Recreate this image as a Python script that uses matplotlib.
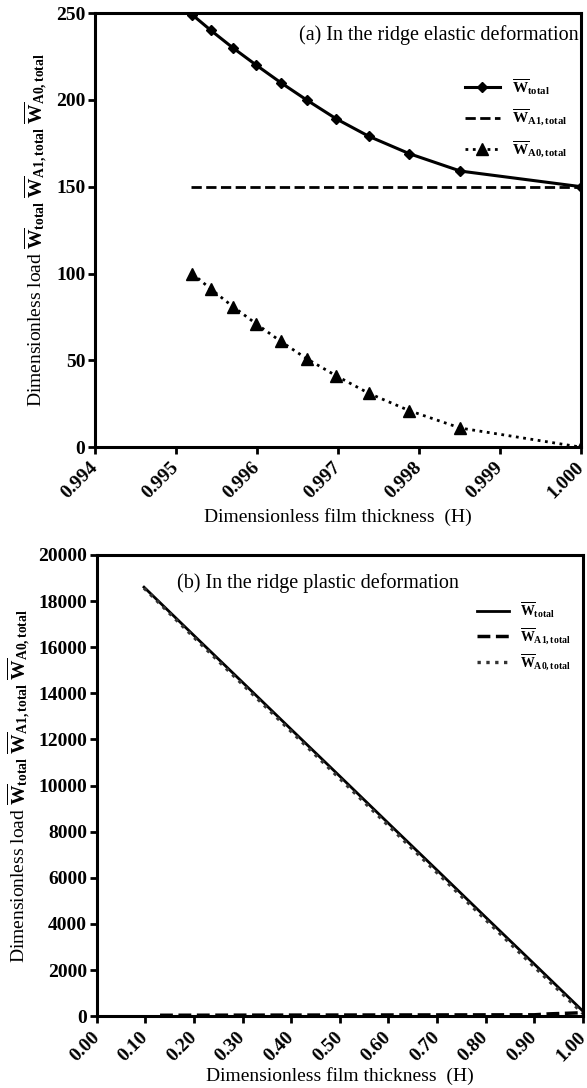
import matplotlib
matplotlib.use('Agg')
import matplotlib.pyplot as plt

plt.rcParams['font.family'] = ['Liberation Serif', 'DejaVu Serif']
plt.rcParams['mathtext.fontset'] = 'custom'
plt.rcParams['mathtext.rm'] = 'Liberation Serif:bold'
plt.rcParams['mathtext.it'] = 'Liberation Serif:bold'
plt.rcParams['mathtext.bf'] = 'Liberation Serif:bold'

# (a) elastic deformation
H_a = [0.99520, 0.99543, 0.99570, 0.99599, 0.99629, 0.99661, 0.99698, 0.99738, 0.99788, 0.99851, 1.00000]
Wtot_a = [249, 240, 230, 220, 210, 200, 189, 179, 169, 159, 150]
WA0_a = [100, 91, 81, 71, 61, 51, 41, 31, 21, 11, 0]
H_a1 = [0.99518, 1.00000]
WA1_a = [150, 150]

# (b) plastic deformation
H_b = [0.097, 0.2, 0.3, 0.4, 0.5, 0.6, 0.7, 0.8, 0.9, 1.0]
Wtot_b = [18600, 16500, 14470, 12430, 10400, 8360, 6330, 4290, 2260, 220]
WA0_b = [18560, 16420, 14380, 12340, 10300, 8260, 6220, 4180, 2140, 120]
H_b1 = [0.13, 0.5, 0.9, 0.93, 1.0]
WA1_b = [40, 50, 60, 100, 150]

lab_tot = r'$\overline{\mathrm{W}}_{\mathrm{total}}$'
lab_a1 = r'$\overline{\mathrm{W}}_{\mathrm{A1,total}}$'
lab_a0 = r'$\overline{\mathrm{W}}_{\mathrm{A0,total}}$'
ylab = 'Dimensionless load ' + lab_tot + ' ' + lab_a1 + ' ' + lab_a0

fig = plt.figure(figsize=(5.87, 10.88), dpi=100)


def style(ax, xpad):
    for s in ax.spines.values():
        s.set_linewidth(2.2)
    ax.tick_params(axis='both', which='both', direction='out', width=2, length=5,
                   labelsize=14, top=False, right=False, pad=2)
    ax.tick_params(axis='x', pad=8)
    for lbl in ax.get_xticklabels():
        lbl.set_rotation(45)
        lbl.set_ha('right')
        lbl.set_va('center')
        lbl.set_rotation_mode('anchor')
        lbl.set_fontweight('bold')
    for lbl in ax.get_yticklabels():
        lbl.set_fontweight('bold')
    ax.set_xlabel('Dimensionless film thickness  (H)', fontsize=14, labelpad=xpad)
    ax.set_ylabel(ylab, fontsize=14, labelpad=4)


ax1 = fig.add_axes([0.162, 0.589, 0.828, 0.399])
ax1.plot(H_a, Wtot_a, '-', color='black', lw=2.2, marker='D', ms=5.5, label=lab_tot)
ax1.plot(H_a1, WA1_a, '--', color='black', lw=2.0, label=lab_a1)
ax1.plot(H_a, WA0_a, ':', color='black', lw=2.0, marker='^', ms=8, label=lab_a0)
ax1.set_xlim(0.994, 1.000)
ax1.set_ylim(0, 250)
ax1.set_xticks([0.994, 0.995, 0.996, 0.997, 0.998, 0.999, 1.000])
ax1.set_xticklabels(['0.994', '0.995', '0.996', '0.997', '0.998', '0.999', '1.000'])
ax1.set_yticks([0, 50, 100, 150, 200, 250])
style(ax1, 4)
ax1.text(0.995, 0.95, '(a) In the ridge elastic deformation', transform=ax1.transAxes,
         ha='right', va='center', fontsize=14.5)
ax1.legend(loc='upper right', bbox_to_anchor=(1.0, 0.885), frameon=False, fontsize=11,
           handlelength=2.3, labelspacing=0.75)

ax2 = fig.add_axes([0.165, 0.066, 0.828, 0.424])
ax2.plot(H_b, Wtot_b, '-', color='black', lw=2.0, label=lab_tot)
ax2.plot(H_b1, WA1_b, '--', color='black', lw=2.5, label=lab_a1)
ax2.plot(H_b, WA0_b, ':', color='#333333', lw=2.4, label=lab_a0)
ax2.set_xlim(0, 1.0)
ax2.set_ylim(0, 20000)
ax2.set_xticks([0.0, 0.1, 0.2, 0.3, 0.4, 0.5, 0.6, 0.7, 0.8, 0.9, 1.0])
ax2.set_xticklabels(['0.00', '0.10', '0.20', '0.30', '0.40', '0.50', '0.60', '0.70', '0.80', '0.90', '1.00'])
ax2.set_yticks(range(0, 20001, 2000))
style(ax2, 2)
ax2.text(0.455, 0.94, '(b) In the ridge plastic deformation', transform=ax2.transAxes,
         ha='center', va='center', fontsize=14.5)
ax2.legend(loc='upper right', bbox_to_anchor=(1.0, 0.928), frameon=False, fontsize=10,
           handlelength=2.3, labelspacing=0.45)

fig.savefig('out.png', dpi=100)
